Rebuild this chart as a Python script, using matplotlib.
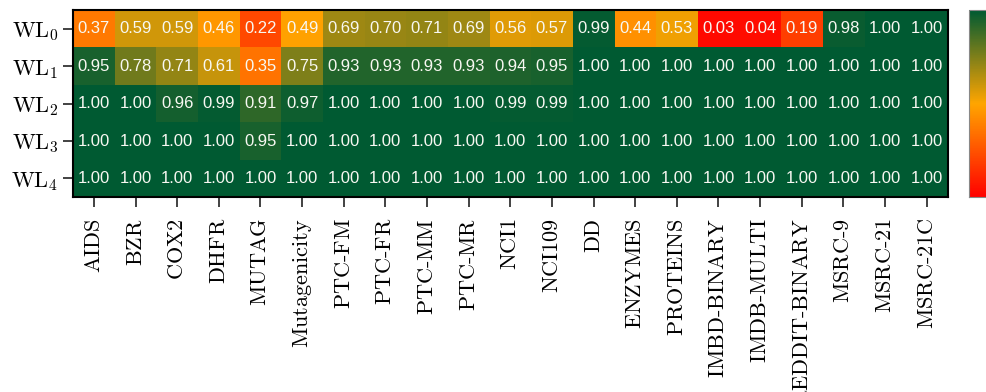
import numpy as np
import matplotlib
matplotlib.use("Agg")
import matplotlib.pyplot as plt
from matplotlib.colors import LinearSegmentedColormap

datasets = ["AIDS", "BZR", "COX2", "DHFR", "MUTAG", "Mutagenicity",
            "PTC-FM", "PTC-FR", "PTC-MM", "PTC-MR", "NCI1", "NCI109",
            "DD", "ENZYMES", "PROTEINS", "IMBD-BINARY", "IMDB-MULTI",
            "REDDIT-BINARY", "MSRC-9", "MSRC-21", "MSRC-21C"]
wl_labels = [r"$\mathrm{WL}_0$", r"$\mathrm{WL}_1$", r"$\mathrm{WL}_2$",
             r"$\mathrm{WL}_3$", r"$\mathrm{WL}_4$"]

wl0 = [0.37, 0.59, 0.59, 0.46, 0.22, 0.49, 0.69, 0.70, 0.71, 0.69, 0.56,
       0.57, 0.99, 0.44, 0.53, 0.03, 0.04, 0.19, 0.98, 1.00, 1.00]
wl1 = [0.95, 0.78, 0.71, 0.61, 0.35, 0.75, 0.93, 0.93, 0.93, 0.93, 0.94,
       0.95, 1.00, 1.00, 1.00, 1.00, 1.00, 1.00, 1.00, 1.00, 1.00]
wl2 = [1.00, 1.00, 0.96, 0.99, 0.91, 0.97, 1.00, 1.00, 1.00, 1.00, 0.99,
       0.99, 1.00, 1.00, 1.00, 1.00, 1.00, 1.00, 1.00, 1.00, 1.00]
wl3 = [1.00, 1.00, 1.00, 1.00, 0.95, 1.00, 1.00, 1.00, 1.00, 1.00, 1.00,
       1.00, 1.00, 1.00, 1.00, 1.00, 1.00, 1.00, 1.00, 1.00, 1.00]
wl4 = [1.00] * 21

plt.rcParams["mathtext.fontset"] = "cm"

data = np.array([wl0, wl1, wl2, wl3, wl4])
cmap = LinearSegmentedColormap.from_list("rog", ["#ff0000", "#ffa500", "#005a32"])

fig = plt.figure(figsize=(9.87, 3.92), dpi=100)
ax = fig.add_axes([0.074, 0.497, 0.886, 0.477])
im = ax.imshow(data, cmap=cmap, vmin=0, vmax=1, aspect="auto",
               interpolation="nearest")

for i in range(data.shape[0]):
    for j in range(data.shape[1]):
        ax.text(j, i, f"{data[i, j]:.2f}", ha="center", va="center",
                color="#f8f8f2", fontsize=12, family="Liberation Sans")

ax.set_xticks(range(len(datasets)))
ax.set_xticklabels([r"$\mathrm{%s}$" % d.replace("-", "\\text{-}") for d in datasets],
                   rotation=90, fontsize=16)
ax.set_yticks(range(len(wl_labels)))
ax.set_yticklabels(wl_labels, fontsize=16)
ax.tick_params(length=7, width=1.2, color="#222222")
ax.tick_params(axis="x", pad=8)
for s in ax.spines.values():
    s.set_linewidth(1.5)

# colorbar runs off the right edge, its labels are not visible
cax = fig.add_axes([0.982, 0.497, 0.05, 0.477])
cb = fig.colorbar(im, cax=cax)
cb.outline.set_edgecolor("#888888")
cb.ax.tick_params(labelright=False, right=False)

fig.savefig("out.png", dpi=100)
